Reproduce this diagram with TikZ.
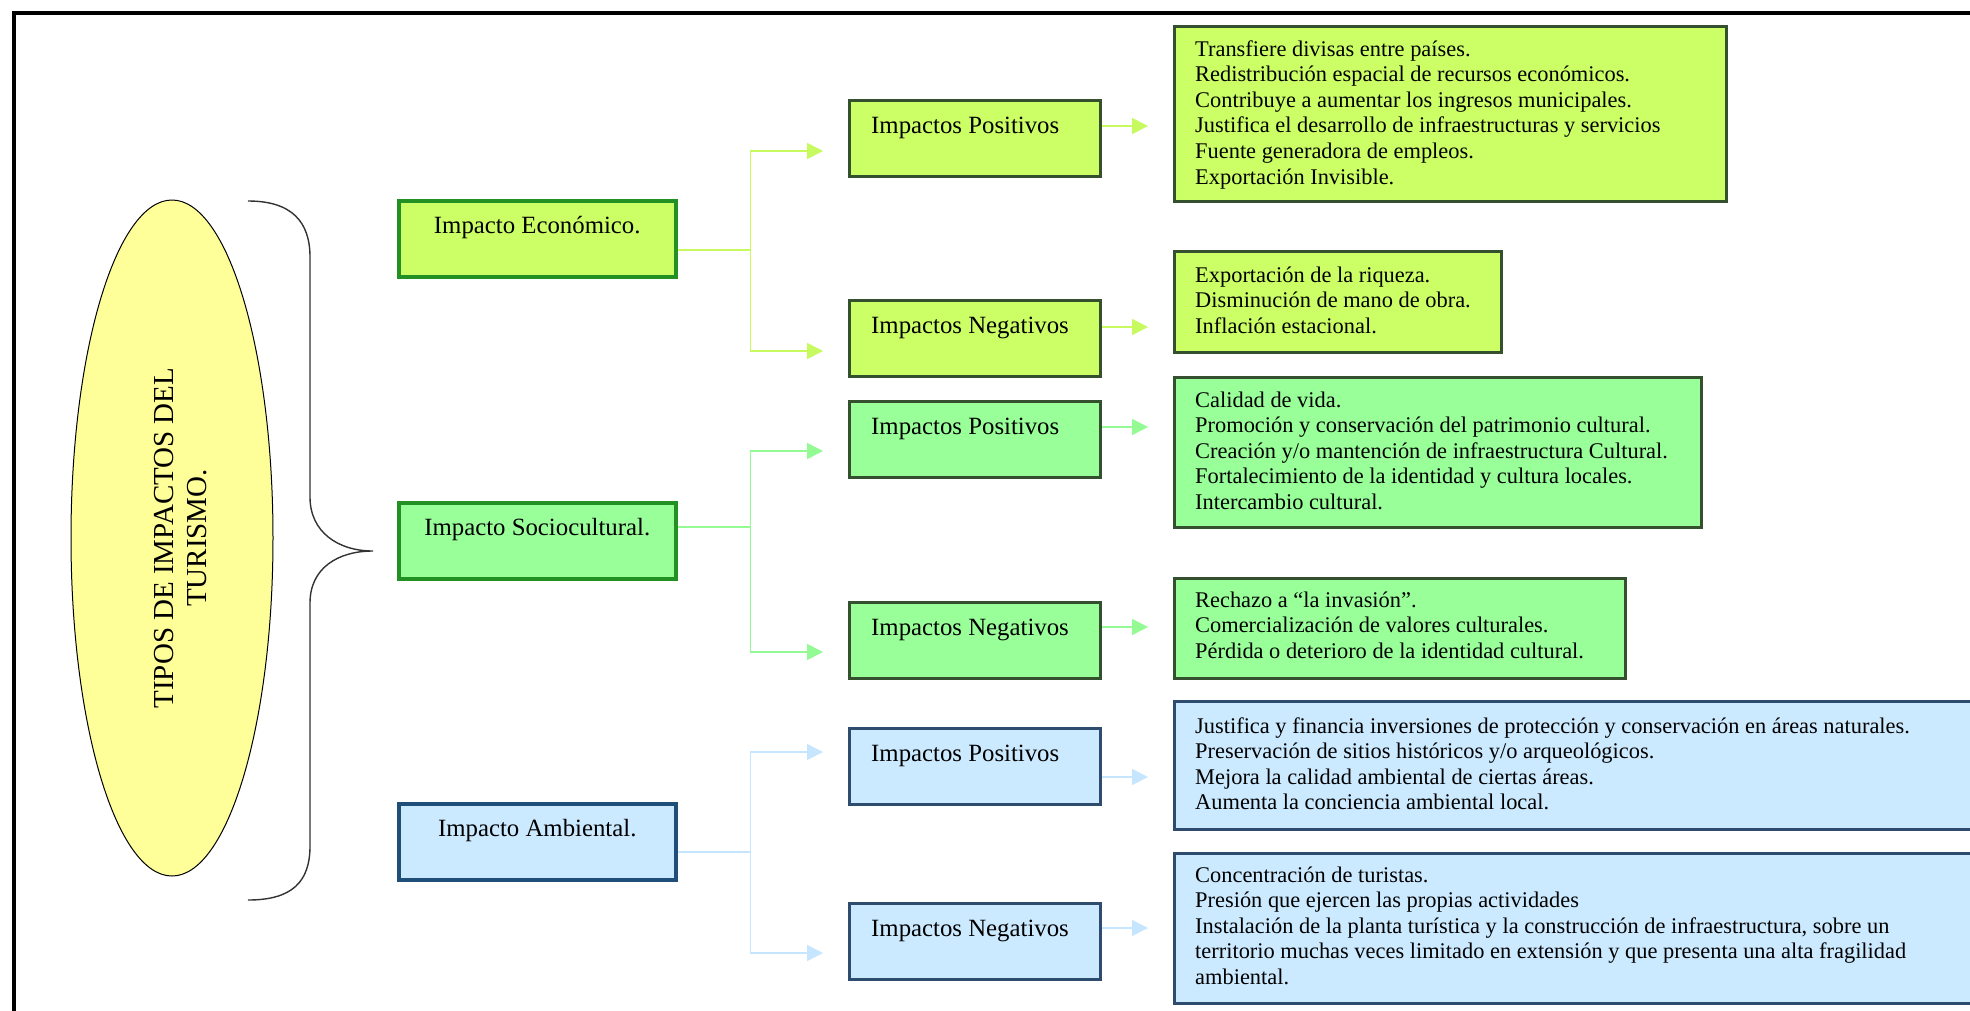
\documentclass[tikz,border=0pt]{standalone}
\usepackage{fontspec}
\setmainfont{Liberation Serif}
\usetikzlibrary{calc,arrows.meta,shapes.geometric}

\definecolor{econfill}{HTML}{CCFF66}
\definecolor{sociofill}{HTML}{99FF99}
\definecolor{ambfill}{HTML}{CCEAFF}
\definecolor{ellfill}{HTML}{FFFF99}
\definecolor{greenedge}{HTML}{239023}
\definecolor{blueedge}{HTML}{1F4E79}
\definecolor{darkgreenedge}{HTML}{34502F}
\definecolor{darkblueedge}{HTML}{2D4C6E}
\definecolor{econline}{HTML}{C6FA5E}
\definecolor{socioline}{HTML}{94FA94}
\definecolor{ambline}{HTML}{C6E6FF}

\newcommand\boxlines[1]{\parbox[t]{900pt}{\raggedright #1}}

\begin{document}
\begin{tikzpicture}[x=1pt,y=-1pt,
  box/.style={rectangle, inner sep=0pt, anchor=north west},
  topbox/.style={box, line width=3.5pt, minimum width=277pt, minimum height=76pt},
  midbox/.style={box, line width=2.5pt, minimum width=251pt, minimum height=76pt},
  listbox/.style={box, line width=2.5pt},
  econA/.style={fill=econfill, draw=greenedge},
  socioA/.style={fill=sociofill, draw=greenedge},
  ambA/.style={fill=ambfill, draw=blueedge},
  econB/.style={fill=econfill, draw=darkgreenedge},
  socioB/.style={fill=sociofill, draw=darkgreenedge},
  ambB/.style={fill=ambfill, draw=darkblueedge},
  lbl/.style={inner sep=0pt, font=\fontsize{24.8}{30}\selectfont},
  body/.style={inner sep=0pt, anchor=base west, font=\fontsize{22.4}{25.6}\selectfont},
  link/.style={line width=1.5pt},
  arr/.style={link, -{Triangle[length=16pt,width=16pt]}},
]
\useasboundingbox (0,0) rectangle (1970,1010);
\fill[white] (0,0) rectangle (1970,1010);
\clip (0,0) rectangle (1970,1010);

% outer frame
\draw[line width=4.5pt] (14,13) rectangle (2100,1100);

% central ellipse and its title
\node[ellipse, draw, line width=1pt, fill=ellfill, minimum width=202pt, minimum height=676pt, inner sep=0pt] (ell) at (172,538) {};
\node[rotate=90, align=center, inner sep=0pt, font=\fontsize{29}{33}\selectfont] (title) at ($(ell.center)+(9,0)$) {TIPOS DE IMPACTOS DEL\\TURISMO.};

% curly brace
\draw[line width=1.4pt, black!80] (248,201) .. controls (292,201) and (310,222) .. (310,257)
  -- (310,497) .. controls (310,532) and (338,551) .. (373,551)
  .. controls (338,551) and (310,568) .. (310,603)
  -- (310,846) .. controls (310,882) and (292,900) .. (248,900);

% first level
\node[topbox, econA] (e) at (397,199) {};
\node[topbox, socioA] (s) at (397,501) {};
\node[topbox, ambA] (a) at (397,802) {};
\node[lbl, anchor=base] (etx) at ($(e.north)+(0,34)$) {Impacto Económico.};
\node[lbl, anchor=base] (stx) at ($(s.north)+(0,34)$) {Impacto Sociocultural.};
\node[lbl, anchor=base] (atx) at ($(a.north)+(0,34)$) {Impacto Ambiental.};

% second level
\node[midbox, econB] (ep) at (848,99) {};
\node[midbox, econB] (en) at (848,299) {};
\node[midbox, socioB] (sp) at (848,400) {};
\node[midbox, socioB] (sn) at (848,601) {};
\node[midbox, ambB] (ap) at (848,727) {};
\node[midbox, ambB] (an) at (848,902) {};
\foreach \n/\t in {ep/Positivos, en/Negativos, sp/Positivos, sn/Negativos, ap/Positivos, an/Negativos}
  \node[lbl, anchor=base west] (\n tx) at ($(\n.north west)+(23,34)$) {Impactos \t};

% third level
\node[listbox, econB, minimum width=552pt, minimum height=175pt] (el1) at (1173,25) {};
\node[listbox, econB, minimum width=327pt, minimum height=101pt] (el2) at (1173,250) {};
\node[listbox, socioB, minimum width=527pt, minimum height=150pt] (sl1) at (1173,376) {};
\node[listbox, socioB, minimum width=451pt, minimum height=100pt] (sl2) at (1173,577) {};
\node[listbox, ambB, minimum width=930pt, minimum height=128pt] (al1) at (1173,700) {};
\node[listbox, ambB, minimum width=930pt, minimum height=150pt] (al2) at (1173,852) {};

\node[body] (el1tx) at ($(el1.north west)+(22,31)$) {\boxlines{%
  Transfiere divisas entre países.\\
  Redistribución espacial de recursos económicos.\\
  Contribuye a aumentar los ingresos municipales.\\
  Justifica el desarrollo de infraestructuras y servicios\\
  Fuente generadora de empleos.\\
  Exportación Invisible.}};
\node[body] (el2tx) at ($(el2.north west)+(22,32)$) {\boxlines{%
  Exportación de la riqueza.\\
  Disminución de mano de obra.\\
  Inflación estacional.}};
\node[body] (sl1tx) at ($(sl1.north west)+(22,31)$) {\boxlines{%
  Calidad de vida.\\
  Promoción y conservación del patrimonio cultural.\\
  Creación y/o mantención de infraestructura Cultural.\\
  Fortalecimiento de la identidad y cultura locales.\\
  Intercambio cultural.}};
\node[body] (sl2tx) at ($(sl2.north west)+(22,30)$) {\boxlines{%
  Rechazo a “la invasión”.\\
  Comercialización de valores culturales.\\
  Pérdida o deterioro de la identidad cultural.}};
\node[body] (al1tx) at ($(al1.north west)+(22,33)$) {\boxlines{%
  Justifica y financia inversiones de protección y conservación en áreas naturales.\\
  Preservación de sitios históricos y/o arqueológicos.\\
  Mejora la calidad ambiental de ciertas áreas.\\
  Aumenta la conciencia ambiental local.}};
\node[body] (al2tx) at ($(al2.north west)+(22,30)$) {\boxlines{%
  Concentración de turistas.\\
  Presión que ejercen las propias actividades\\
  Instalación de la planta turística y la construcción de infraestructura, sobre un\\
  territorio muchas veces limitado en extensión y que presenta una alta fragilidad\\
  ambiental.}};

% connectors: first to second level
\coordinate (ejoin) at ($(e.north east)+(73,51)$);
\draw[link, econline] ($(e.north east)+(0,51)$) -- (ejoin);
\draw[arr, econline] (ejoin) |- ($(ep.north west)+(-25,52)$);
\draw[arr, econline] (ejoin) |- ($(en.north west)+(-25,52)$);

\coordinate (sjoin) at ($(s.north east)+(73,26)$);
\draw[link, socioline] ($(s.north east)+(0,26)$) -- (sjoin);
\draw[arr, socioline] (sjoin) |- ($(sp.north west)+(-25,51)$);
\draw[arr, socioline] (sjoin) |- ($(sn.north west)+(-25,51)$);

\coordinate (ajoin) at ($(a.north east)+(73,50)$);
\draw[link, ambline] ($(a.north east)+(0,50)$) -- (ajoin);
\draw[arr, ambline] (ajoin) |- ($(ap.north west)+(-25,25)$);
\draw[arr, ambline] (ajoin) |- ($(an.north west)+(-25,51)$);

% connectors: second to third level
\draw[arr, econline] ($(ep.north east)+(0,27)$) -- ($(el1.west |- ep.north)+(-25,27)$);
\draw[arr, econline] ($(en.north east)+(0,28)$) -- ($(el2.west |- en.north)+(-25,28)$);
\draw[arr, socioline] ($(sp.north east)+(0,27)$) -- ($(sl1.west |- sp.north)+(-25,27)$);
\draw[arr, socioline] ($(sn.north east)+(0,26)$) -- ($(sl2.west |- sn.north)+(-25,26)$);
\draw[arr, ambline] ($(ap.north east)+(0,50)$) -- ($(al1.west |- ap.north)+(-25,50)$);
\draw[arr, ambline] ($(an.north east)+(0,26)$) -- ($(al2.west |- an.north)+(-25,26)$);
\end{tikzpicture}
\end{document}
